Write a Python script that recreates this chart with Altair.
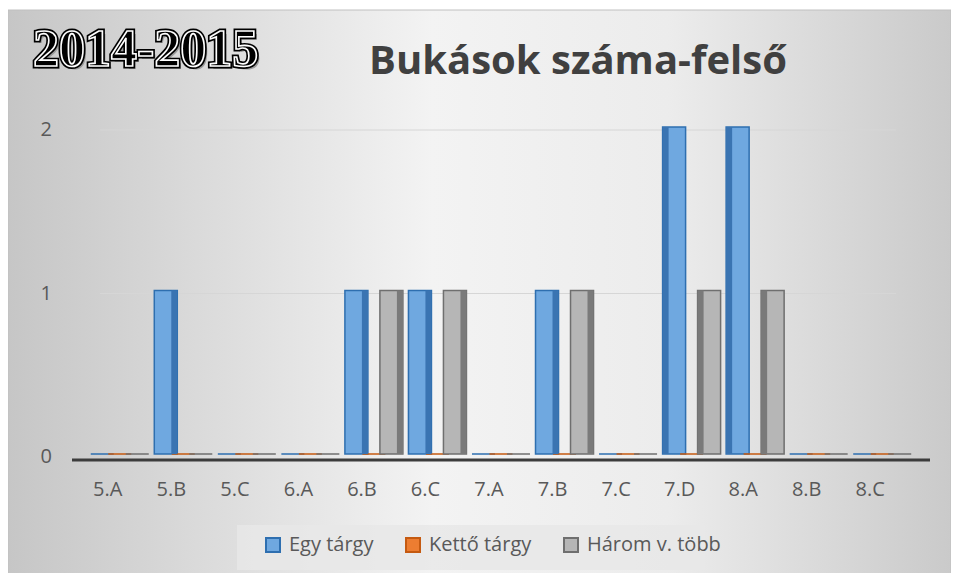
import altair as alt
import pandas as pd

categories = ["5.A", "5.B", "5.C", "6.A", "6.B", "6.C", "7.A", "7.B", "7.C", "7.D", "8.A", "8.B", "8.C"]
right_face_cats = ["5.A", "5.B", "5.C", "6.A", "6.B", "6.C", "7.A", "7.B", "7.C"]
left_face_cats = ["7.D", "8.A", "8.B", "8.C"]
series_names = ["Egy tárgy", "Kettő tárgy", "Három v. több"]
egy_targy = [0, 1, 0, 0, 1, 1, 0, 1, 0, 2, 2, 0, 0]
ketto_targy = [0, 0, 0, 0, 0, 0, 0, 0, 0, 0, 0, 0, 0]
harom_v_tobb = [0, 0, 0, 0, 1, 1, 0, 1, 0, 1, 1, 0, 0]
y_ticks = [0, 1, 2]
y_tick_labels = ["0", "1", "2"]
grid_ticks = [1, 2]
chart_title = "Bukások száma-felső"
year_label = "2014-2015"

fills = ["#6fa8e0", "#ed7d31", "#b6b6b6"]
strokes = ["#2e6fb0", "#c55a11", "#6f6f6f"]
sides = ["#3a74b2", "#c0600f", "#7a7a7a"]

rows = []
for name, vals in zip(series_names, [egy_targy, ketto_targy, harom_v_tobb]):
    for c, v in zip(categories, vals):
        rows.append({"cat": c, "series": name, "value": v})
df = pd.DataFrame(rows)

W, H = 826, 327

yscale = alt.Scale(domain=[0, 2])
xaxis = alt.Axis(labelAngle=0, labelFontSize=20, labelColor="#595959",
                 labelFont="Open Sans", labelPadding=22, ticks=False, labelOverlap=False,
                 domain=False, zindex=1)
xenc = alt.X("cat:N", sort=categories, title=None,
             scale=alt.Scale(paddingInner=0, paddingOuter=0), axis=xaxis)

bg = alt.Chart(pd.DataFrame({"a": [0]})).mark_rect(
    color=alt.LinearGradient(
        gradient="linear", x1=0, x2=1, y1=0, y2=0,
        stops=[alt.GradientStop(color="#c6c6c6", offset=0),
               alt.GradientStop(color="#f3f3f3", offset=0.45),
               alt.GradientStop(color="#ececec", offset=0.7),
               alt.GradientStop(color="#cacaca", offset=1)]),
    stroke="#c0c0c0", strokeWidth=1
).encode(x=alt.value(-68), x2=alt.value(875), y=alt.value(-120), y2=alt.value(451))

legend_box = alt.Chart(pd.DataFrame({"a": [0]})).mark_rect(
    color="#e8e8e8", opacity=0.85
).encode(x=alt.value(161), x2=alt.value(629), y=alt.value(395), y2=alt.value(440))

grid = alt.Chart(pd.DataFrame({"tick": grid_ticks})).mark_rule(
    color="#d6d6d6", strokeWidth=1
).encode(
    y=alt.Y("tick:Q", scale=yscale, axis=None),
    x=alt.value(24), x2=alt.value(820)
)

ylabels = alt.Chart(pd.DataFrame({"tick": y_ticks, "lab": y_tick_labels})).mark_text(
    font="Open Sans", fontSize=20, color="#595959", align="right", baseline="middle"
).encode(
    y=alt.Y("tick:Q", scale=yscale, axis=None),
    x=alt.value(-24), text="lab:N"
)

floor = alt.Chart(pd.DataFrame({"tick": [0]})).mark_rule(
    color="#3c3c3c", strokeWidth=3, yOffset=3
).encode(
    y=alt.Y("tick:Q", scale=yscale, axis=None),
    x=alt.value(-4), x2=alt.value(854)
)

legend = alt.Legend(
    title=None, orient="none", legendX=187, legendY=405, direction="horizontal",
    padding=0, labelFontSize=20, labelColor="#595959",
    labelFont="Open Sans", symbolType="square", symbolSize=196, symbolStrokeWidth=2,
    labelOffset=6, columnPadding=28
)

bars = alt.Chart(df).mark_bar(width=23, yOffset=-3, strokeWidth=1.5).encode(
    x=xenc,
    xOffset=alt.XOffset("series:N", sort=series_names,
                        scale=alt.Scale(range=[17.5, 70], paddingOuter=0, paddingInner=0)),
    y=alt.Y("value:Q", scale=yscale, title=None, axis=None),
    color=alt.Color("series:N", sort=series_names,
                    scale=alt.Scale(domain=series_names, range=fills), legend=legend),
    stroke=alt.Stroke("series:N", sort=series_names,
                      scale=alt.Scale(domain=series_names, range=strokes), legend=legend),
)


def side_layer(cats, rng):
    return alt.Chart(df).transform_filter(
        alt.FieldOneOfPredicate(field="cat", oneOf=cats)
    ).mark_bar(width=6, yOffset=-3).encode(
        x=xenc,
        xOffset=alt.XOffset("series:N", sort=series_names,
                            scale=alt.Scale(range=rng, paddingOuter=0, paddingInner=0)),
        y=alt.Y("value:Q", scale=yscale, title=None, axis=None),
        fill=alt.Fill("series:N", sort=series_names,
                      scale=alt.Scale(domain=series_names, range=sides), legend=None),
    )


side_r = side_layer(right_face_cats, [26, 78.5])
side_l = side_layer(left_face_cats, [9, 61.5])

title = alt.Chart(pd.DataFrame({"t": [chart_title]})).mark_text(
    font="Open Sans", fontSize=40, fontWeight="bold", color="#404040",
    align="center", baseline="alphabetic"
).encode(text="t:N", x=alt.value(502), y=alt.value(-56))

yr = pd.DataFrame({"t": [year_label]})
yx, yy = -43, -64
yr_shadow = alt.Chart(yr).mark_text(
    font="Liberation Serif", fontSize=52, fontWeight="bold", color="#9a9a9a",
    align="left", baseline="alphabetic", dx=3, dy=3
).encode(text="t:N", x=alt.value(yx), y=alt.value(yy))
yr_outer = alt.Chart(yr).mark_text(
    font="Liberation Serif", fontSize=52, fontWeight="bold", color="#000000",
    stroke="#000000", strokeWidth=5, align="left", baseline="alphabetic"
).encode(text="t:N", x=alt.value(yx), y=alt.value(yy))
yr_inner = alt.Chart(yr).mark_text(
    font="Liberation Serif", fontSize=52, fontWeight="bold", color="#000000",
    stroke="#ffffff", strokeWidth=1.6, align="left", baseline="alphabetic"
).encode(text="t:N", x=alt.value(yx), y=alt.value(yy))

chart = alt.layer(bg, legend_box, grid, ylabels, floor, bars, side_r, side_l, title,
                  yr_shadow, yr_outer, yr_inner).resolve_scale(
    xOffset="independent", fill="independent"
).properties(
    width=W, height=H,
    autosize=alt.AutoSizeParams(type="none"),
    padding={"left": 68, "top": 122, "right": 49, "bottom": 116},
    background="white"
).configure_view(stroke=None)

chart.save("out.html", embed_options={"renderer": "svg", "actions": False})
